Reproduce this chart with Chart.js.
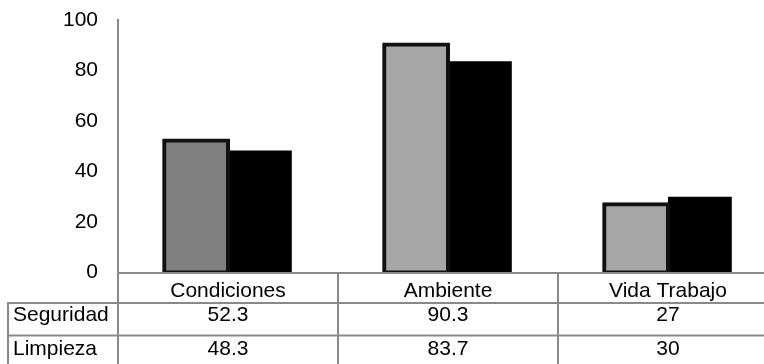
<!DOCTYPE html>
<html>
<head>
<meta charset="utf-8">
<script src="https://cdn.jsdelivr.net/npm/chart.js@4/dist/chart.umd.min.js"></script>
<style>
  html, body { margin: 0; padding: 0; background: #ffffff; overflow: hidden; }
  #wrap { width: 764px; height: 364px; overflow: hidden; }
  canvas { display: block; }
</style>
</head>
<body>
<div id="wrap"><canvas id="c" width="780" height="364"></canvas></div>
<script>
// Categories, series and axis ticks
const categories = ['Condiciones', 'Ambiente', 'Vida Trabajo'];
const seriesNames = ['Seguridad', 'Limpieza'];
const seguridad = [52.3, 90.3, 27];
const limpieza = [48.3, 83.7, 30];
const yTicks = [0, 20, 40, 60, 80, 100];

const FONT = '"Liberation Sans", Arial, sans-serif';
const LINE = '#898989';

// Data table under the plot: category row, then one row per series
const dataTable = {
  id: 'dataTable',
  afterDatasetsDraw(chart) {
    const ctx = chart.ctx;
    const x = chart.scales.x;
    const area = chart.chartArea;
    const n = categories.length;
    const cw = (x.right - x.left) / n;
    const top = area.bottom + 0.5;
    const rows = [top, top + 30, top + 62.5, top + 94];
    const baselines = [top + 23.5, top + 48, top + 81.5];
    const leftEdge = 8;
    const series = [seguridad, limpieza];

    ctx.save();
    ctx.strokeStyle = LINE;
    ctx.lineWidth = 2;
    ctx.beginPath();
    // horizontal rules
    ctx.moveTo(x.left - 1, rows[0]); ctx.lineTo(chart.width, rows[0]);
    ctx.moveTo(leftEdge - 1, rows[1]); ctx.lineTo(chart.width, rows[1]);
    ctx.moveTo(leftEdge - 1, rows[2]); ctx.lineTo(chart.width, rows[2]);
    ctx.moveTo(leftEdge - 1, rows[3]); ctx.lineTo(chart.width, rows[3]);
    // vertical rules
    for (let i = 0; i <= n; i++) {
      const vx = x.left + i * cw;
      ctx.moveTo(vx, rows[0]); ctx.lineTo(vx, chart.height);
    }
    ctx.moveTo(leftEdge, rows[1]); ctx.lineTo(leftEdge, chart.height);
    ctx.stroke();

    ctx.fillStyle = '#000000';
    ctx.font = '21px ' + FONT;
    ctx.textBaseline = 'alphabetic';
    ctx.textAlign = 'center';
    categories.forEach((c, i) => {
      const cx = x.getPixelForValue(i);
      ctx.fillText(c, cx, baselines[0]);
      series.forEach((s, r) => ctx.fillText(String(s[i]), cx, baselines[r + 1]));
    });
    ctx.textAlign = 'left';
    seriesNames.forEach((name, r) => ctx.fillText(name, leftEdge + 5, baselines[r + 1]));
    ctx.restore();
  }
};

new Chart(document.getElementById('c'), {
  type: 'bar',
  data: {
    labels: categories,
    datasets: [
      {
        label: seriesNames[0],
        data: seguridad,
        backgroundColor: ['#808080', '#a6a6a6', '#a6a6a6'],
        borderColor: '#111111',
        borderWidth: 4,
        borderSkipped: false,
        inflateAmount: 2
      },
      {
        label: seriesNames[1],
        data: limpieza,
        backgroundColor: '#000000',
        borderWidth: 0
      }
    ]
  },
  options: {
    responsive: false,
    animation: false,
    devicePixelRatio: 1,
    layout: { padding: { top: 20, bottom: 91.5, left: 0, right: 2 } },
    datasets: { bar: { categoryPercentage: 0.58, barPercentage: 1 } },
    plugins: { legend: { display: false }, tooltip: { enabled: false } },
    scales: {
      x: { display: false },
      y: {
        min: 0,
        max: 100,
        afterBuildTicks(scale) { scale.ticks = yTicks.map(v => ({ value: v })); },
        afterFit(scale) {
          scale.width = 118;
          scale.paddingTop = 0;
          scale.paddingBottom = 0;
        },
        grid: { display: false, drawTicks: false },
        border: { display: true, color: LINE, width: 2 },
        ticks: { padding: 20, color: '#000000', font: { family: FONT, size: 21 } }
      }
    }
  },
  plugins: [dataTable]
});
</script>
</body>
</html>
